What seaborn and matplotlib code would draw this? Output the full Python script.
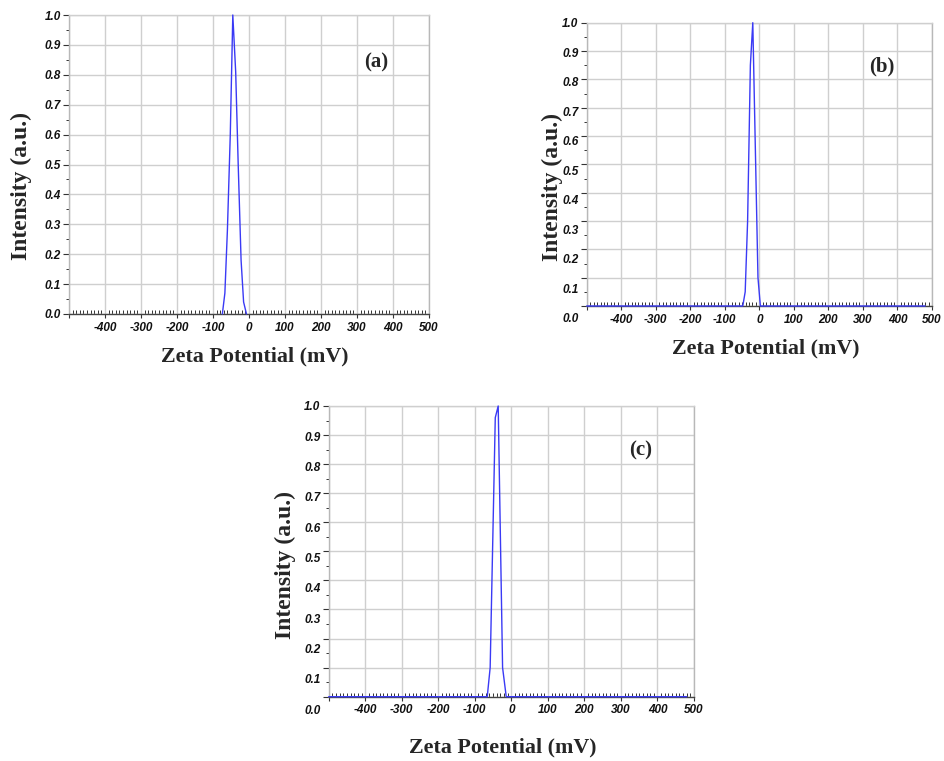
import numpy as np
import pandas as pd
import seaborn as sns
import matplotlib
matplotlib.use("Agg")
import matplotlib.pyplot as plt
from matplotlib.ticker import MultipleLocator, FixedLocator
from matplotlib.transforms import ScaledTranslation

# ---- data ----
zeta_a = [-74, -67, -60, -52, -45, -37, -30, -22, -15, -7]
int_a = [0.0, 0.07, 0.28, 0.60, 1.0, 0.81, 0.50, 0.18, 0.04, 0.0]

zeta_b = [-500, -48, -41, -34, -26, -19, -11, -4, 3, 480]
int_b = [0.0, 0.0, 0.05, 0.30, 0.85, 1.0, 0.52, 0.10, 0.0, 0.0]

zeta_c = [-500, -66, -58, -44, -36, -24, -14, 480]
int_c = [0.0, 0.0, 0.10, 0.96, 1.0, 0.10, 0.0, 0.0]

x_ticks = [-500, -400, -300, -200, -100, 0, 100, 200, 300, 400, 500]
x_ticklabels = ["", "-400", "-300", "-200", "-100", "0", "100", "200", "300", "400", "500"]
y_ticks = [0.0, 0.1, 0.2, 0.3, 0.4, 0.5, 0.6, 0.7, 0.8, 0.9, 1.0]
y_ticklabels = ["0.0", "0.1", "0.2", "0.3", "0.4", "0.5", "0.6", "0.7", "0.8", "0.9", "1.0"]

panel_names = ["(a)", "(b)", "(c)"]
xlabel = "Zeta Potential (mV)"
ylabel = "Intensity (a.u.)"

sns.set_theme(style="white")
plt.rcParams["font.family"] = ["Liberation Sans", "DejaVu Sans"]

W, H = 945, 761
fig = plt.figure(figsize=(W / 100, H / 100), dpi=100)


def px_rect(l, t, r, b):
    return [l / W, 1 - b / H, (r - l) / W, (b - t) / H]


panels = [
    dict(rect=px_rect(69, 15, 429, 314), x=zeta_a, y=int_a, name=panel_names[0],
         name_xy=(376, 62), xl_xy=(255, 356), yl_xy=(21, 186), yoff=0.0),
    dict(rect=px_rect(586.7, 22.7, 932, 306), x=zeta_b, y=int_b, name=panel_names[1],
         name_xy=(882, 66), xl_xy=(766, 348), yl_xy=(552, 187), yoff=11.7),
    dict(rect=px_rect(328.7, 406, 694, 696.7), x=zeta_c, y=int_c, name=panel_names[2],
         name_xy=(641, 450), xl_xy=(503, 747), yl_xy=(285, 565), yoff=12.3),
]

tick_font = dict(family="Liberation Sans", weight="bold", style="italic", size=8.5)

for p in panels:
    ax = fig.add_axes(p["rect"])
    df = pd.DataFrame({"zeta": p["x"], "intensity": p["y"]})
    sns.lineplot(data=df, x="zeta", y="intensity", ax=ax, color="#3a3af5",
                 linewidth=1.0, sort=False, clip_on=False, zorder=3)
    ax.set_xlim(-500, 500)
    ax.set_ylim(0, 1.0)
    ax.set_xlabel("")
    ax.set_ylabel("")

    ax.xaxis.set_major_locator(FixedLocator(x_ticks))
    ax.xaxis.set_minor_locator(MultipleLocator(10))
    ax.yaxis.set_major_locator(FixedLocator(y_ticks))
    ax.yaxis.set_minor_locator(MultipleLocator(0.05))
    ax.set_xticklabels(x_ticklabels, fontdict=tick_font)
    ax.set_yticklabels(y_ticklabels, fontdict=tick_font)

    ax.grid(True, which="major", color="#cfcfcf", linewidth=1.0, zorder=0)
    ax.set_axisbelow(True)

    ax.tick_params(axis="x", which="major", direction="out", length=3, width=0.8,
                   color="#333333", pad=2.5, labelcolor="#111111", bottom=True)
    ax.tick_params(axis="x", which="minor", direction="in", length=3, width=0.7,
                   color="#333333", bottom=True)
    ax.tick_params(axis="y", which="major", direction="out", length=4, width=0.8,
                   color="#333333", pad=2, labelcolor="#111111", left=True)
    ax.tick_params(axis="y", which="minor", direction="out", length=2, width=0.7,
                   color="#333333", left=True)

    for side, col, lw in [("left", "#b8b8b8", 1.0), ("right", "#b8b8b8", 1.0),
                          ("top", "#cfcfcf", 1.0), ("bottom", "#444444", 1.0)]:
        ax.spines[side].set_visible(True)
        ax.spines[side].set_color(col)
        ax.spines[side].set_linewidth(lw)

    # shifted y tick labels (as in panels b and c)
    if p["yoff"] > 0:
        for lab, v in zip(ax.get_yticklabels(), y_ticks):
            off = (1 - v) * p["yoff"] / 100.0
            lab.set_transform(lab.get_transform() + ScaledTranslation(0, -off, fig.dpi_scale_trans))

    fig.text(p["name_xy"][0] / W, 1 - p["name_xy"][1] / H, p["name"],
             family="Liberation Serif", weight="bold", size=15, ha="center", va="center")
    fig.text(p["xl_xy"][0] / W, 1 - p["xl_xy"][1] / H, xlabel,
             family="Liberation Serif", weight="bold", size=15.8, ha="center", va="center")
    fig.text(p["yl_xy"][0] / W, 1 - p["yl_xy"][1] / H, ylabel, rotation=90,
             family="Liberation Serif", weight="bold", size=17, ha="center", va="center")

fig.savefig("out.png", dpi=100, facecolor="white")
